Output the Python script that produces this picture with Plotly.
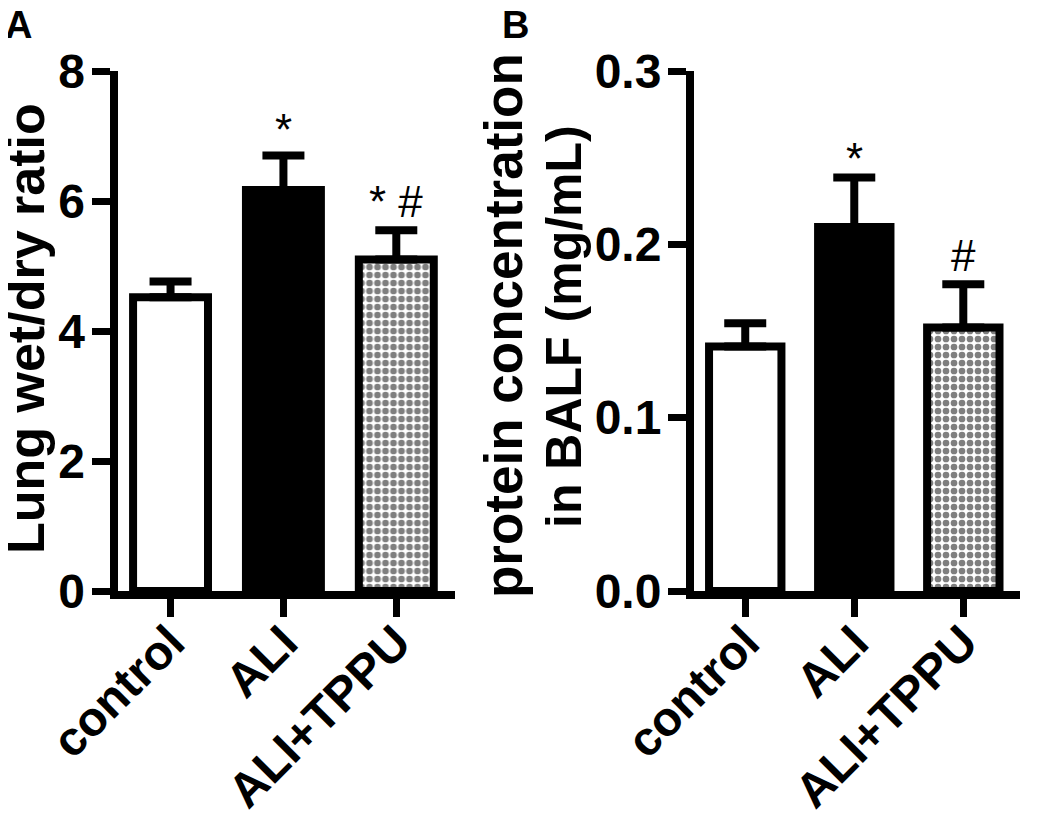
import plotly.graph_objects as go

categories = ["control", "ALI", "ALI+TPPU"]

# Panel A: lung wet/dry ratio
ratio_mean = [4.52, 6.17, 5.10]
ratio_err = [0.24, 0.53, 0.45]
ratio_marks = ["", "*", "* #"]

# Panel B: protein concentration in BALF (mg/mL)
protein_mean = [0.141, 0.210, 0.152]
protein_err = [0.0135, 0.0285, 0.025]
protein_marks = ["", "*", "#"]

y_ticks_a = [0, 2, 4, 6, 8]
y_ticks_b = [0.0, 0.1, 0.2, 0.3]
y_ticklabels_b = ["0.0", "0.1", "0.2", "0.3"]

FONT = "Liberation Sans, Arial, Helvetica, sans-serif"
BLACK = "#000000"

# page body has an 8px margin; lay out in target-pixel coordinates
OFF = 8
FW, FH = 1050 - 2 * OFF, 833 - 2 * OFF


def px_x(p):
    return (p - OFF) / FW


def px_y(p):
    return 1 - (p - OFF) / FH


fig = go.Figure()


def add_bars(xaxis, yaxis, cats, means, errs, color, pattern_shape):
    fig.add_trace(go.Bar(
        x=cats,
        y=means,
        xaxis=xaxis,
        yaxis=yaxis,
        marker=dict(
            color=color,
            line=dict(color=BLACK, width=8),
            pattern=dict(
                shape=pattern_shape,
                fgcolor=BLACK,
                bgcolor="#ffffff",
                size=8,
                solidity=0.55,
            ),
        ),
        error_y=dict(
            type="data",
            symmetric=False,
            array=errs,
            arrayminus=[0] * len(errs),
            color=BLACK,
            thickness=8,
            width=21,
        ),
        showlegend=False,
        hoverinfo="skip",
    ))


for xa, ya, means, errs in [("x", "y", ratio_mean, ratio_err),
                            ("x2", "y2", protein_mean, protein_err)]:
    add_bars(xa, ya, categories[:2], means[:2], errs[:2],
             ["#ffffff", "#000000"], "")
    add_bars(xa, ya, categories[2:], means[2:], errs[2:], "#ffffff", ".")

axis_common = dict(
    showline=True,
    linewidth=8,
    linecolor=BLACK,
    ticks="outside",
    tickwidth=7,
    tickcolor=BLACK,
    ticklen=18,
    showgrid=False,
    zeroline=False,
    automargin=False,
    tickfont=dict(family=FONT, size=48, color=BLACK, weight="bold"),
)

x_common = dict(axis_common, tickangle=-45, ticklabelstandoff=-22,
                categoryorder="array", categoryarray=categories,
                range=[-0.47, 2.52])
y_common = dict(axis_common, ticklabelstandoff=-3)

fig.update_layout(
    width=FW,
    height=FH,
    margin=dict(l=0, r=0, t=0, b=0),
    paper_bgcolor="#ffffff",
    plot_bgcolor="#ffffff",
    barmode="overlay",
    bargap=0.336,
    xaxis=dict(domain=[px_x(117.5), px_x(455)], anchor="y", **x_common),
    yaxis=dict(domain=[px_y(591), px_y(71)], range=[0, 8],
               tickvals=y_ticks_a, anchor="x", **y_common),
    xaxis2=dict(domain=[px_x(694), px_x(1020)], anchor="y2", **x_common),
    yaxis2=dict(domain=[px_y(591), px_y(71)], range=[0, 0.3],
                tickvals=y_ticks_b, ticktext=y_ticklabels_b,
                anchor="x2", **y_common),
)

mark_shift = {"x": 0, "x2": -7}

annotations = []
# significance marks
for xa, ya, means, errs, marks in [
    ("x", "y", ratio_mean, ratio_err, ratio_marks),
    ("x2", "y2", protein_mean, protein_err, protein_marks),
]:
    for c, m, e, t in zip(categories, means, errs, marks):
        if not t:
            continue
        shift = mark_shift[xa] if t == "*" else 2
        annotations.append(dict(
            x=c, y=m + e, xref=xa, yref=ya, text=t, showarrow=False,
            yanchor="bottom", xanchor="center", yshift=shift,
            font=dict(family=FONT, size=44, color=BLACK),
        ))

# axis titles
title_font = dict(family=FONT, color=BLACK, weight="bold")
annotations.append(dict(
    x=px_x(26), y=px_y(329), xref="paper", yref="paper",
    text="Lung wet/dry ratio", textangle=-90, showarrow=False,
    xanchor="center", yanchor="middle",
    font=dict(title_font, size=52),
))
annotations.append(dict(
    x=px_x(504), y=px_y(326), xref="paper", yref="paper",
    text="protein concentration", textangle=-90, showarrow=False,
    xanchor="center", yanchor="middle",
    font=dict(title_font, size=53),
))
annotations.append(dict(
    x=px_x(564), y=px_y(327), xref="paper", yref="paper",
    text="in BALF (mg/mL)", textangle=-90, showarrow=False,
    xanchor="center", yanchor="middle",
    font=dict(title_font, size=50),
))
# panel letters
for letter, xp in [("A", 18), ("B", 516)]:
    annotations.append(dict(
        x=px_x(xp), y=px_y(25), xref="paper", yref="paper",
        text=letter, showarrow=False, xanchor="center", yanchor="middle",
        height=34,
        font=dict(title_font, size=38),
    ))

fig.update_layout(annotations=annotations)

fig.write_html("out.html")
